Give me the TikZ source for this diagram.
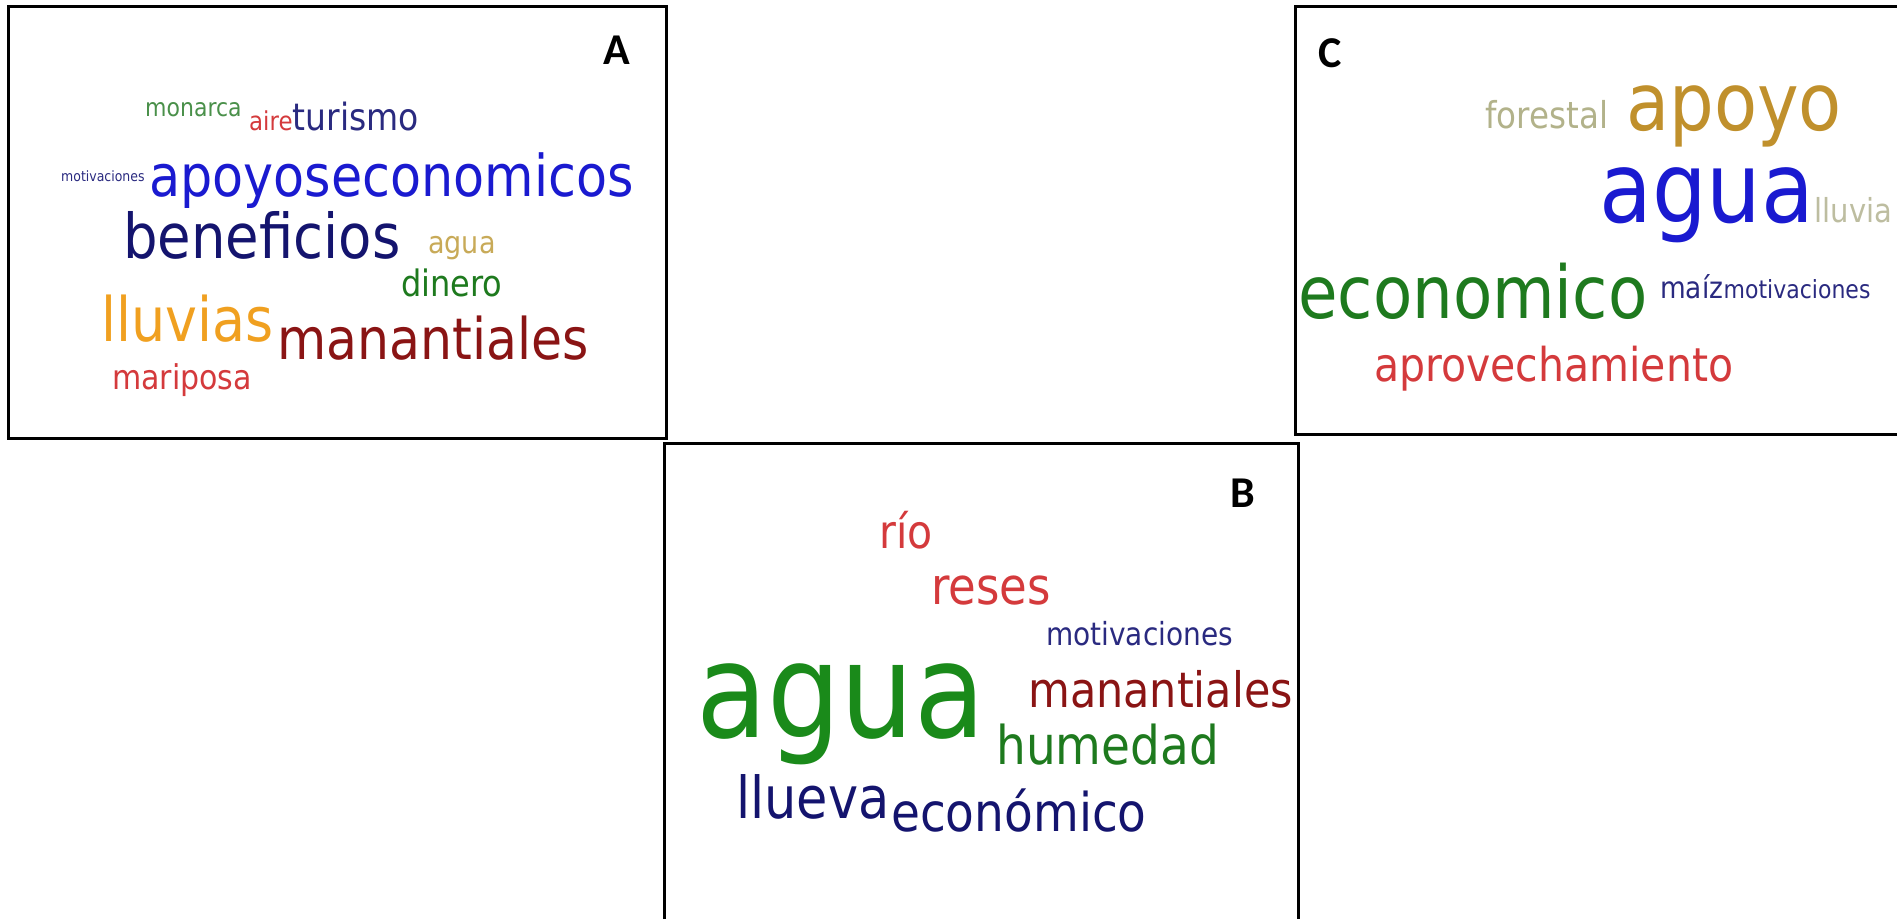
\documentclass[tikz,border=0pt]{standalone}
\usepackage{fontspec}
\newfontfamily\cloudfont{DejaVu Sans}[FakeStretch=0.88]
\newfontfamily\panelfont{Carlito}
\newcommand{\wsize}[1]{\fontsize{#1}{#1}\selectfont}

\definecolor{wgreen}{HTML}{4A904A}
\definecolor{wdgreen}{HTML}{1E7A1E}
\definecolor{wbgreen}{HTML}{1A8A1A}
\definecolor{wred}{HTML}{D43A3C}
\definecolor{wdred}{HTML}{8A1414}
\definecolor{wblue}{HTML}{1A1AD0}
\definecolor{wnavy}{HTML}{14146E}
\definecolor{wslate}{HTML}{2A2A80}
\definecolor{wkhaki}{HTML}{C8AA58}
\definecolor{wgold}{HTML}{C0902C}
\definecolor{wolive}{HTML}{B2B28A}
\definecolor{wpale}{HTML}{BDBDA0}
\definecolor{worange}{HTML}{F0A020}

\begin{document}
\begin{tikzpicture}[x=1pt, y=-1pt,
    word/.style={anchor=base west, inner sep=0pt, font=\cloudfont\wsize{#1}},
    tag/.style={inner sep=0pt, font=\panelfont\bfseries\wsize{44}}]
        \useasboundingbox (0,0) rectangle (1897,919);

        % Frames
        \draw[line width=3pt] (8.5,6) rectangle (666.5,438);
        \draw[line width=3pt] (664.5,919) -- (664.5,443) -- (1298,443) -- (1298,919);
        \draw[line width=3pt] (1897,6) -- (1295.5,6) -- (1295.5,434.5) -- (1897,434.5);

        % Cloud A
        \node[tag] (tagA) at (617,50) {A};
        \node[word=25, wgreen] (aMonarca) at (145,116.7) {monarca};
        \node[word=26, wred] (aAire) at (249,130.7) {aire};
        \node[word=37.5, wslate] (aTurismo) at (aAire.base east) {turismo};
        \node[word=14.2, wslate] (aMotivaciones) at (61,181) {motivaciones};
        \node[word=57.7, wblue] (aApoyo) at (149,196) {apoyoseconomicos};
        \node[word=61.9, wnavy] (aBeneficios) at (123,258) {beneficios};
        \node[word=30.7, wkhaki] (aAgua) at (428,253) {agua};
        \node[word=36.4, wdgreen] (aDinero) at (401,296.7) {dinero};
        \node[word=61.3, worange] (aLluvias) at (101,341.7) {lluvias};
        \node[word=57.4, wdred] (aManantiales) at (277,359) {manantiales};
        \node[word=34.1, wred] (aMariposa) at (112,389) {mariposa};

        % Cloud B
        \node[tag] (tagB) at (1243,493) {B};
        \node[word=46.6, wred] (bRio) at (879,548) {río};
        \node[word=51.1, wred] (bReses) at (931,604) {reses};
        \node[word=31.8, wslate] (bMotivaciones) at (1046,645) {motivaciones};
        \node[word=131.8, wbgreen] (bAgua) at (696,737) {agua};
        \node[word=48.8, wdred] (bManantiales) at (1028,707) {manantiales};
        \node[word=53.4, wdgreen] (bHumedad) at (996,764) {humedad};
        \node[word=57.9, wnavy] (bLlueva) at (736,818) {llueva};
        \node[word=53.4, wnavy] (bEconomico) at (891,831) {económico};

        % Cloud C
        \node[tag] (tagC) at (1330,53) {C};
        \node[word=37, wolive] (cForestal) at (1485,128) {forestal};
        \node[word=80, wgold] (cApoyo) at (1626,130) {apoyo};
        \node[word=98, wblue] (cAgua) at (1599,222) {agua};
        \node[word=33, wpale] (cLluvia) at (cAgua.base east) {lluvia};
        \node[word=73, wdgreen] (cEconomico) at (1298,318) {economico};
        \node[word=30, wslate] (cMaiz) at (1660,298) {maíz};
        \node[word=25, wslate] (cMotivaciones) at (cMaiz.base east) {motivaciones};
        \node[word=46.6, wred] (cAprovechamiento) at (1374,381) {aprovechamiento};
    \end{tikzpicture}
\end{document}
